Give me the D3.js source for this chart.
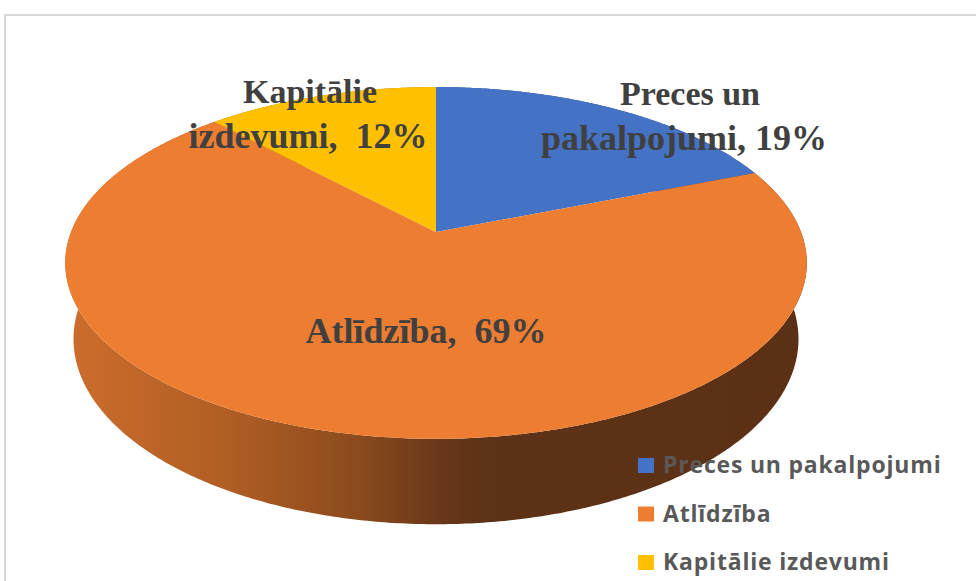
<!DOCTYPE html>
<html>
<head>
<meta charset="utf-8">
<script src="https://cdn.jsdelivr.net/npm/d3@7"></script>
<style>
  body { margin: 0; background: #fff; }
  svg { display: block; }
</style>
</head>
<body>
<svg id="chart" width="976" height="581"></svg>
<script>
// data
let categories = ['Preces un pakalpojumi', 'Atlīdzība', 'Kapitālie izdevumi'];
let values = [19, 69, 12];
let colors = ['#4472C4', '#ED7D31', '#FFC000'];
// data label lines (first line, second line)
let label_line1 = ['Preces un', '', 'Kapitālie'];
let label_line2 = ['pakalpojumi, 19%', 'Atlīdzība,  69%', 'izdevumi,  12%'];

let svg = d3.select('#chart');

// chart area border
svg.append('rect')
    .attr('x', 5).attr('y', 15)
    .attr('width', 1000).attr('height', 600)
    .attr('fill', 'none')
    .attr('stroke', '#d9d9d9')
    .attr('stroke-width', 2);

// perspective projection of a unit-radius disc
let cx = 436, cy = 232;
let D = 5.025, F = 1834, H = 0.238;
let phi = 27.84 * Math.PI / 180;
let cosP = Math.cos(phi), sinP = Math.sin(phi);

function project(theta, r, w) {
    let u = r * Math.sin(theta), v = r * Math.cos(theta);
    let z = D + v * cosP - w * sinP;
    let up = v * sinP + w * cosP;
    return [cx + F * u / z, cy - F * up / z];
}

function arcPoints(a0, a1, w) {
    let n = Math.max(2, Math.ceil((a1 - a0) / 0.01));
    let pts = [];
    for (let i = 0; i <= n; i++) pts.push(project(a0 + (a1 - a0) * i / n, 1, w));
    return pts;
}

let pie = d3.pie().sort(null).value(d => d)
    .startAngle(0).endAngle(2 * Math.PI);
let arcs = pie(values);

let line = d3.line();

// side shading
let defs = svg.append('defs');
let grad = defs.append('linearGradient')
    .attr('id', 'wall')
    .attr('gradientUnits', 'userSpaceOnUse')
    .attr('x1', 65).attr('x2', 807).attr('y1', 0).attr('y2', 0);
[[0, '#cd6d2c'], [0.22, '#b05e24'], [0.4, '#8a4a1c'], [0.5, '#6a3819'], [0.56, '#5e3216'], [1, '#5b3015']]
    .forEach(s => grad.append('stop').attr('offset', s[0]).attr('stop-color', s[1]));

let g = svg.append('g');

// walls: back slices first, big front slice last
let order = [0, 2, 1];
order.forEach(i => {
    let a = arcs[i];
    let top = arcPoints(a.startAngle, a.endAngle, 0);
    let bot = arcPoints(a.startAngle, a.endAngle, -H).reverse();
    g.append('path')
        .attr('d', line(top.concat(bot)) + 'Z')
        .attr('fill', i === 1 ? 'url(#wall)' : d3.color(colors[i]).darker(1.2));
});

// top faces
arcs.forEach((a, i) => {
    let pts = [project(0, 0, 0)].concat(arcPoints(a.startAngle, a.endAngle, 0));
    g.append('path')
        .attr('d', line(pts) + 'Z')
        .attr('fill', colors[i]);
});

// data labels
let labelPos = [[690, 105, 684, 150], [0, 0, 426, 343], [310, 103, 308, 148]];
let labels = svg.append('g')
    .attr('font-family', '"Liberation Serif", "Times New Roman", serif')
    .attr('font-weight', 'bold')
    .attr('fill', '#404040')
    .attr('text-anchor', 'middle');
arcs.forEach((a, i) => {
    let p = labelPos[i];
    if (label_line1[i])
        labels.append('text')
            .attr('x', p[0]).attr('y', p[1])
            .attr('font-size', 34)
            .text(label_line1[i]);
    labels.append('text')
        .attr('x', p[2]).attr('y', p[3])
        .attr('font-size', 36)
        .style('white-space', 'pre')
        .text(label_line2[i]);
});

// legend
let legend = svg.append('g')
    .attr('font-family', '"Open Sans", Lato, sans-serif')
    .attr('font-weight', 'bold')
    .attr('font-size', 23)
    .attr('letter-spacing', 0.8)
    .attr('fill', '#595959');
categories.forEach((c, i) => {
    let y = 473 + i * 48.5;
    legend.append('rect')
        .attr('x', 638).attr('y', y - 15)
        .attr('width', 16).attr('height', 15)
        .attr('fill', colors[i]);
    legend.append('text')
        .attr('x', 663).attr('y', y)
        .text(c);
});
</script>
</body>
</html>
